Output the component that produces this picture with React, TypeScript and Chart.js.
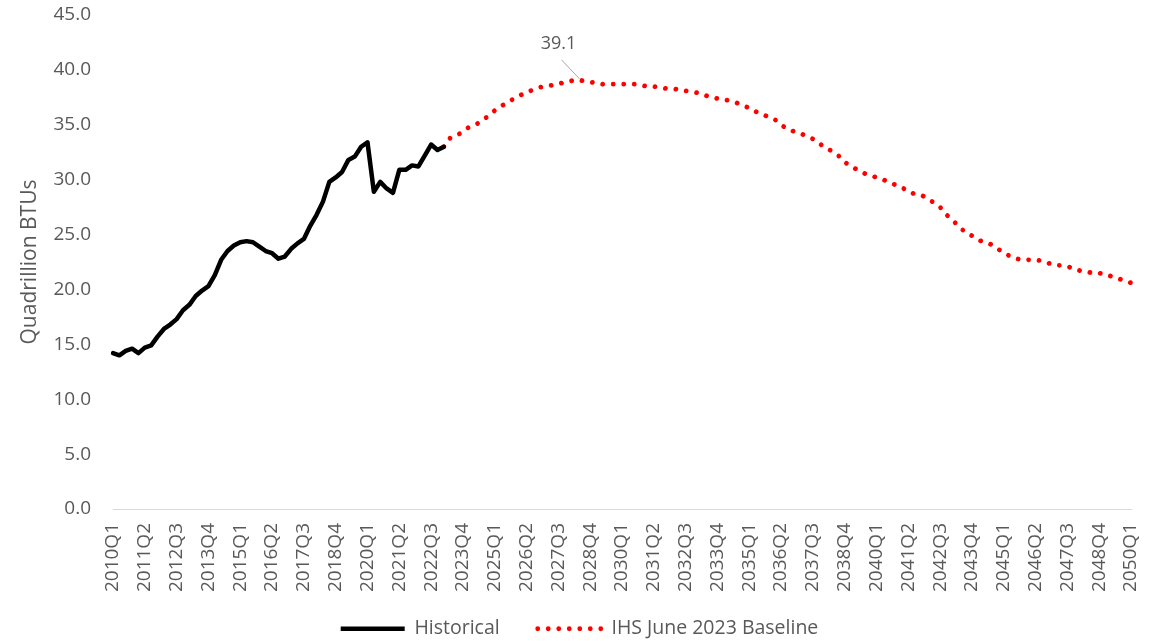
import React, { useEffect, useRef } from "react";
import { Chart, registerables } from "chart.js";

Chart.register(...registerables);

// Categories: quarterly from 2010Q1 to 2050Q1
const categories: string[] = [];
for (let y = 2010; y <= 2050; y++) {
  for (let q = 1; q <= 4; q++) {
    if (y === 2050 && q > 1) break;
    categories.push(`${y}Q${q}`);
  }
}

// Historical series 2010Q1 – 2023Q1 (Quadrillion BTUs)
const historical: number[] = [
  14.2, 14.0, 14.4, 14.6, 14.2, 14.7, 14.9, 15.7, 16.4, 16.8,
  17.3, 18.1, 18.6, 19.4, 19.9, 20.3, 21.3, 22.7, 23.5, 24.0,
  24.3, 24.4, 24.3, 23.9, 23.5, 23.3, 22.8, 23.0, 23.7, 24.2,
  24.6, 25.8, 26.8, 28.0, 29.8, 30.2, 30.7, 31.8, 32.1, 33.0,
  33.4, 28.9, 29.8, 29.2, 28.8, 30.9, 30.9, 31.3, 31.2, 32.2,
  33.2, 32.7, 33.0,
];

// IHS June 2023 Baseline 2023Q1 – 2050Q1
const forecastStart = "2023Q1";
const forecast: number[] = [
  33.0, 33.8, 34.0, 34.4, 34.8, 35.0, 35.4, 35.8, 36.3, 36.7,
  37.0, 37.4, 37.7, 37.9, 38.2, 38.4, 38.5, 38.6, 38.7, 38.9,
  39.0, 39.1, 39.0, 38.9, 38.8, 38.7, 38.7, 38.7, 38.7, 38.7,
  38.7, 38.6, 38.5, 38.5, 38.4, 38.3, 38.3, 38.2, 38.1, 38.0,
  37.9, 37.7, 37.5, 37.4, 37.3, 37.2, 37.0, 36.8, 36.5, 36.2,
  36.0, 35.7, 35.5, 35.0, 34.6, 34.4, 34.2, 34.0, 33.7, 33.3,
  32.9, 32.6, 32.2, 31.6, 31.2, 30.9, 30.6, 30.4, 30.2, 30.0,
  29.8, 29.5, 29.3, 28.9, 28.7, 28.6, 28.3, 27.9, 27.5, 26.8,
  26.3, 25.7, 25.2, 24.9, 24.5, 24.3, 24.1, 23.7, 23.4, 23.0,
  22.8, 22.7, 22.7, 22.7, 22.6, 22.4, 22.2, 22.2, 22.1, 21.9,
  21.7, 21.6, 21.5, 21.5, 21.3, 21.2, 21.0, 20.8, 20.6,
];

const yTicks: number[] = [0, 5, 10, 15, 20, 25, 30, 35, 40, 45];
const seriesNames = ["Historical", "IHS June 2023 Baseline"];
const yTitle = "Quadrillion BTUs";

const FONT = "'Open Sans', sans-serif";
const TEXT = "#595959";

const peakLabelPlugin = {
  id: "peakLabel",
  afterDatasetsDraw(chart: any) {
    const meta = chart.getDatasetMeta(1);
    const data = chart.data.datasets[1].data as (number | null)[];
    let best = -1;
    let bestV = -Infinity;
    data.forEach((v, i) => {
      if (v != null && v > bestV) {
        bestV = v;
        best = i;
      }
    });
    if (best < 0) return;
    const pt = meta.data[best];
    const { ctx } = chart;
    ctx.save();
    ctx.strokeStyle = "#a6a6a6";
    ctx.lineWidth = 1;
    ctx.beginPath();
    ctx.moveTo(pt.x + 2, pt.y - 1);
    ctx.lineTo(pt.x - 16, pt.y - 20);
    ctx.stroke();
    ctx.fillStyle = TEXT;
    ctx.font = `18px ${FONT}`;
    ctx.textAlign = "center";
    ctx.textBaseline = "middle";
    ctx.fillText(bestV.toFixed(1), pt.x - 19, pt.y - 36);
    ctx.restore();
  },
};

// Nudge the legend into the reference position after layout
const legendShiftPlugin = {
  id: "legendShift",
  afterLayout(chart: any) {
    const lg = chart.legend;
    if (!lg) return;
    lg.top -= 16;
    lg.bottom = chart.height;
    lg.left += 14;
    lg.right += 14;
  },
};

export default function App() {
  const canvasRef = useRef<HTMLCanvasElement | null>(null);

  useEffect(() => {
    if (!canvasRef.current) return;
    const fStart = categories.indexOf(forecastStart);
    const histData = categories.map((_, i) => (i < historical.length ? historical[i] : null));
    const fcData = categories.map((_, i) =>
      i >= fStart && i - fStart < forecast.length ? forecast[i - fStart] : null
    );

    const chart = new Chart(canvasRef.current, {
      type: "line",
      data: {
        labels: categories,
        datasets: [
          {
            label: seriesNames[0],
            data: histData,
            borderColor: "#000000",
            backgroundColor: "#000000",
            borderWidth: 4.5,
            pointRadius: 0,
            tension: 0,
            borderJoinStyle: "round",
            borderCapStyle: "round",
            spanGaps: false,
          },
          {
            label: seriesNames[1],
            data: fcData,
            borderColor: "#ff0000",
            backgroundColor: "#ff0000",
            borderWidth: 4.8,
            borderDash: [0.01, 10.5],
            borderCapStyle: "round",
            pointRadius: 0,
            tension: 0,
            spanGaps: false,
          },
        ],
      },
      options: {
        responsive: false,
        animation: false,
        events: [],
        layout: { padding: { top: 15, right: 24, left: 0, bottom: 0 } },
        plugins: {
          tooltip: { enabled: false },
          legend: {
            position: "bottom",
            maxHeight: 44,
            labels: {
              usePointStyle: true,
              pointStyle: "line",
              pointStyleWidth: 64,
              color: TEXT,
              font: { family: FONT, size: 19.5 },
              padding: 38,
              generateLabels: (chart: any) =>
                chart.data.datasets.map((ds: any, i: number) => ({
                  text: ds.label,
                  datasetIndex: i,
                  fillStyle: ds.borderColor,
                  strokeStyle: ds.borderColor,
                  lineWidth: ds.borderWidth,
                  lineDash: ds.borderDash || [],
                  lineCap: ds.borderDash ? "round" : "butt",
                  pointStyle: "line",
                  fontColor: TEXT,
                  hidden: false,
                })),
            },
          },
        },
        scales: {
          x: {
            offset: false,
            grid: { display: false },
            border: { display: true, color: "#d9d9d9", width: 1 },
            ticks: {
              autoSkip: false,
              minRotation: 90,
              maxRotation: 90,
              color: TEXT,
              font: { family: FONT, size: 19 },
              padding: 6,
              callback: (_v: any, i: number) => (i % 5 === 0 ? categories[i] : ""),
            },
            afterFit: (s: any) => {
              s.height = 88;
              s.paddingLeft = 0;
              s.paddingRight = 0;
            },
          },
          y: {
            min: 0,
            max: 45,
            grid: { display: false },
            border: { display: false },
            afterBuildTicks: (s: any) => {
              s.ticks = yTicks.map((v) => ({ value: v }));
            },
            ticks: {
              color: TEXT,
              font: { family: FONT, size: 19 },
              padding: 14,
              callback: (v: any) => Number(v).toFixed(1),
            },
            title: {
              display: true,
              text: yTitle,
              color: TEXT,
              font: { family: FONT, size: 21 },
              padding: { top: 17, bottom: 0 },
            },
            afterFit: (s: any) => {
              s.width = 113;
              s.paddingTop = 0;
              s.paddingBottom = 0;
            },
          },
        },
      },
      plugins: [peakLabelPlugin, legendShiftPlugin],
    });
    return () => chart.destroy();
  }, []);

  return (
    <div style={{ position: "absolute", left: 0, top: 0, width: 1155, height: 641, background: "#fff" }}>
      <canvas ref={canvasRef} width={1155} height={641} style={{ display: "block" }} />
    </div>
  );
}
